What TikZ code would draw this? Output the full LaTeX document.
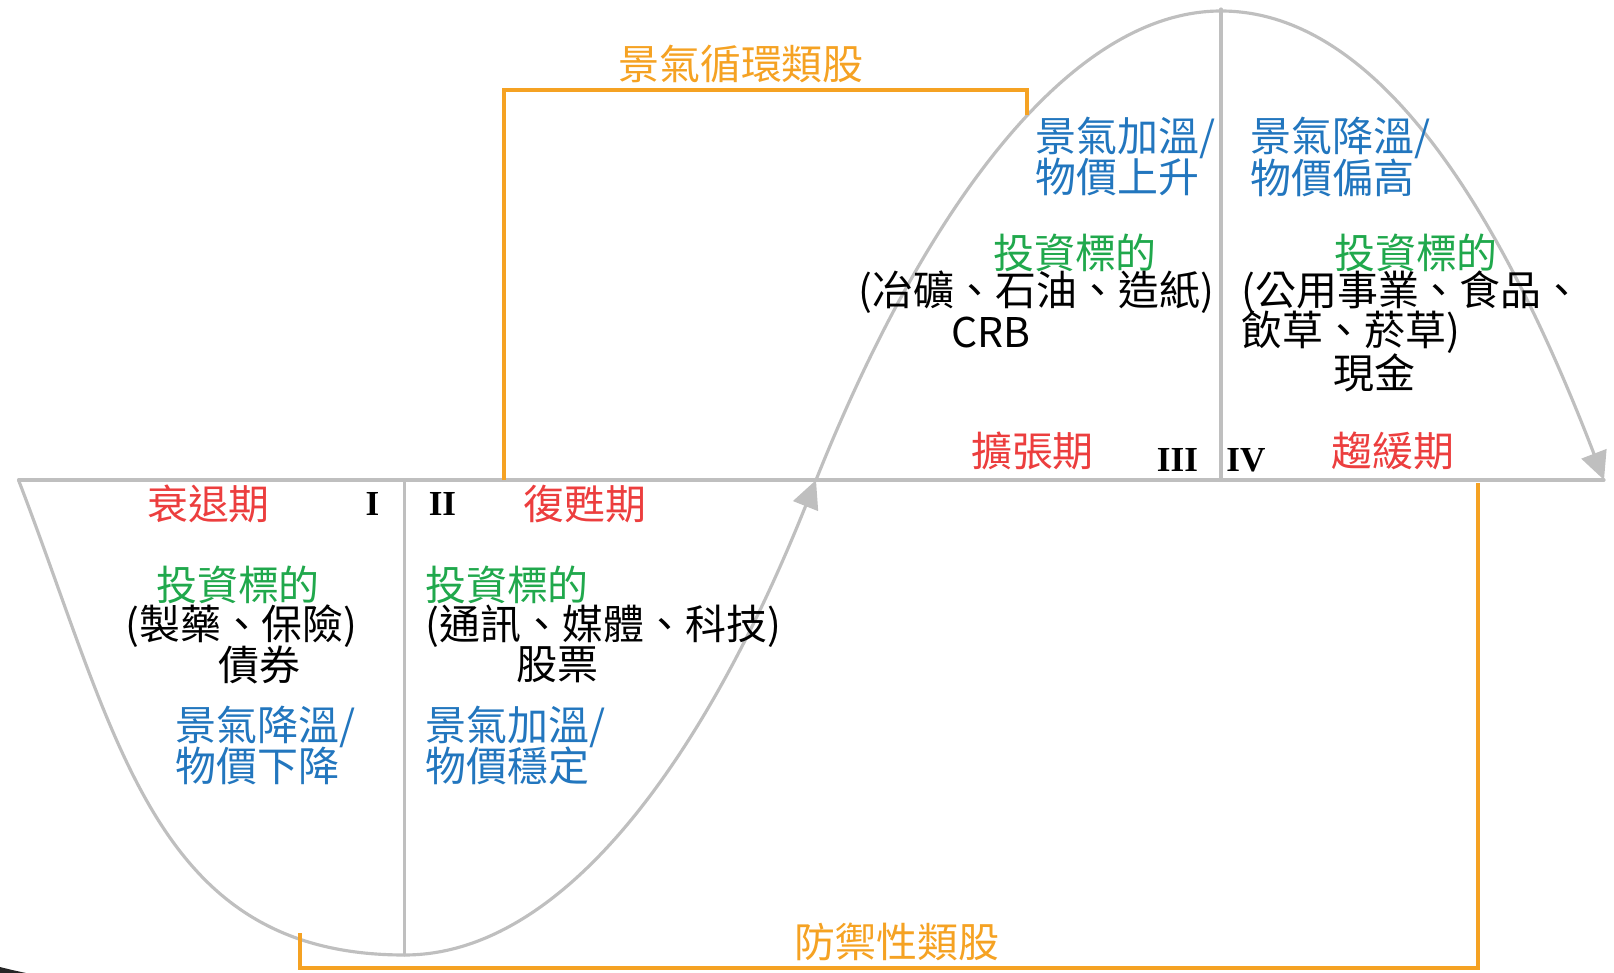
\documentclass[tikz,border=0pt]{standalone}
\usepackage{fontspec}
\setmainfont{Noto Sans CJK TC}
\newfontfamily\numfont{Liberation Serif}
\usetikzlibrary{arrows.meta}

\definecolor{stagered}{RGB}{236,62,62}
\definecolor{targetgreen}{RGB}{32,168,76}
\definecolor{moodblue}{RGB}{34,118,190}
\definecolor{grouporange}{RGB}{245,162,35}
\newcommand{\cjksize}{\fontsize{23.3pt}{28pt}\selectfont}

\begin{document}
\begin{tikzpicture}[
  x={(0.02cm,0cm)},
  y={(0cm,-0.02cm)},
  line cap=round,
  every node/.style={inner sep=0pt, font=\cjksize},
  curve/.style={draw=gray!50, line width=1.8pt},
  cyclearrow/.style={-{Triangle[length=16pt, width=15pt]}},
  bracket/.style={draw=grouporange, line width=1.9pt, line cap=butt},
  stage/.style={text=stagered},
  target/.style={text=targetgreen},
  item/.style={text=black},
  mood/.style={text=moodblue, anchor=west},
  group/.style={text=grouporange},
  phase/.style={font=\numfont\bfseries\fontsize{20pt}{24pt}\selectfont},
]

\useasboundingbox (0,0) rectangle (1614,973);

% 景氣循環曲線與座標軸
\coordinate (axisL) at (18.5,480);
\coordinate (axisR) at (1604,480);
\coordinate (trough) at (404.5,955);
\coordinate (cross) at (816,480);
\coordinate (peak) at (1221,11);
\coordinate (divItop) at (404.5,480);
\coordinate (divIIItop) at (1221,9);
\coordinate (divIIIbot) at (1221,480);

\draw[curve] (axisL) -- (axisR);
\draw[curve] (divItop) -- (trough);
\draw[curve] (divIIItop) -- (divIIIbot);

\draw[curve, cyclearrow] (axisL) .. controls (118.5,740) and (154,955) .. (trough)
  .. controls (565,955) and (706,755) .. (cross);
\draw[curve, cyclearrow] (cross) .. controls (926,205) and (1071,11) .. (peak)
  .. controls (1371,11) and (1494,194) .. (axisR);

% 類股括線
\coordinate (cycL) at (504,480);
\coordinate (cycLtop) at (504,90);
\coordinate (cycRtop) at (1027,90);
\coordinate (cycR) at (1027,115);
\draw[bracket] (cycL) -- (cycLtop) -- (cycRtop) -- (cycR);

\coordinate (defL) at (300,933);
\coordinate (defLbot) at (300,968);
\coordinate (defRbot) at (1478,968);
\coordinate (defR) at (1478,483);
\draw[bracket] (defL) -- (defLbot) -- (defRbot) -- (defR);

\node[group] (cyclical) at (741,64) {景氣循環類股};
\node[group] (defensive) at (897,942) {防禦性類股};

% I 衰退期
\node[stage] (recession) at (208.5,504) {衰退期};
\node[phase] (phaseI) at (372.5,503.5) {I};
\node[target] (targetI) at (238,585) {投資標的};
\node[item] (sectorI) at (241.5,626) {(製藥、保險)};
\node[item] (assetI) at (259.5,665) {債券};
\node[mood] (moodIa) at (175,726.5) {景氣降溫/};
\node[mood] (moodIb) at (175,766) {物價下降};

% II 復甦期
\node[phase] (phaseII) at (442.5,503.5) {II};
\node[stage] (recovery) at (585,504) {復甦期};
\node[target] (targetII) at (507,585) {投資標的};
\node[item] (sectorII) at (603.5,626) {(通訊、媒體、科技)};
\node[item] (assetII) at (557.5,665) {股票};
\node[mood] (moodIIa) at (425,726.5) {景氣加溫/};
\node[mood] (moodIIb) at (425,766) {物價穩定};

% III 擴張期
\node[mood] (moodIIIa) at (1035,137.5) {景氣加溫/};
\node[mood] (moodIIIb) at (1035,177.5) {物價上升};
\node[target] (targetIII) at (1075,252.5) {投資標的};
\node[item] (sectorIII) at (1036.5,292.5) {(冶礦、石油、造紙)};
\node[item] (assetIII) at (991,332.5) {CRB};
\node[stage] (expansion) at (1032.5,451) {擴張期};
\node[phase] (phaseIII) at (1177.5,460) {III};

% IV 趨緩期
\node[phase] (phaseIV) at (1246,460) {IV};
\node[stage] (slowdown) at (1393,451) {趨緩期};
\node[mood] (moodIVa) at (1250,137.5) {景氣降溫/};
\node[mood] (moodIVb) at (1250,177.5) {物價偏高};
\node[target] (targetIV) at (1416,252.5) {投資標的};
\node[item, anchor=west] (sectorIVa) at (1241,292.5) {(公用事業、食品、};
\node[item, anchor=west] (sectorIVb) at (1241,332.5) {飲草、菸草)};
\node[item] (assetIV) at (1374,372.5) {現金};

% 左下角陰影
\fill[black!85] (0,967) .. controls (12,970) .. (26,973) -- (0,973) -- cycle;

\end{tikzpicture}
\end{document}
